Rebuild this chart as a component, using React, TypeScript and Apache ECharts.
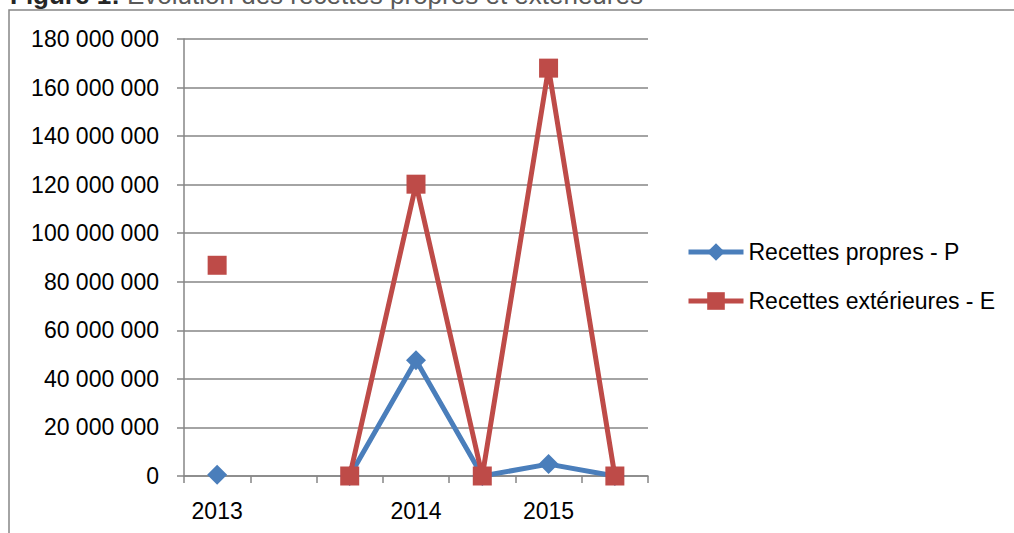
import React, { useEffect, useRef } from "react";
import * as echarts from "echarts";

const categories = ["2013", "", "", "2014", "", "2015", ""];
const recettesPropres = [500000, null, 0, 47700000, 0, 4900000, 0];
const recettesExterieures = [86800000, null, 0, 120200000, 0, 168000000, 0];
const seriesNames = ["Recettes propres - P", "Recettes extérieures - E"];
const titleBold = "Figure 1:";
const titleRest = " Évolution des recettes propres et extérieures";

const FONT = "Liberation Sans";

function fmt(v: number): string {
  return String(v).replace(/\B(?=(\d{3})+(?!\d))/g, " ");
}

export default function App() {
  const ref = useRef<HTMLDivElement>(null);
  useEffect(() => {
    document.body.style.margin = "0";
    const chart = echarts.init(ref.current!, null, { renderer: "svg" });
    chart.setOption({
      animation: false,
      backgroundColor: "#ffffff",
      grid: { left: 184, right: 366, top: 39, bottom: 57 },
      graphic: [
        {
          type: "rect",
          shape: { x: 9, y: 10, width: 1100, height: 600 },
          style: { fill: "none", stroke: "#868686", lineWidth: 1.5 },
          silent: true,
        },
        {
          type: "text",
          x: 10,
          y: 8,
          style: {
            text: "{b|" + titleBold + "}{r|" + titleRest + "}",
            verticalAlign: "bottom",
            align: "left",
            rich: {
              b: { fontFamily: FONT, fontSize: 26, fontWeight: "bold", fill: "#262626" },
              r: { fontFamily: FONT, fontSize: 26, fill: "#595959" },
            },
          },
        },
      ],
      xAxis: {
        type: "category",
        data: categories,
        boundaryGap: true,
        axisLine: { show: true, lineStyle: { color: "#868686", width: 1.5 } },
        axisTick: { show: true, interval: 0, length: 7, lineStyle: { color: "#868686", width: 1.5 } },
        axisLabel: { interval: 0, margin: 23, fontFamily: FONT, fontSize: 23, color: "#000000" },
        splitLine: { show: false },
      },
      yAxis: {
        type: "value",
        min: 0,
        max: 180000000,
        interval: 20000000,
        axisLine: { show: true, lineStyle: { color: "#868686", width: 1.5 } },
        axisTick: { show: true, length: 7, lineStyle: { color: "#868686", width: 1.5 } },
        axisLabel: { margin: 25, fontFamily: FONT, fontSize: 23, color: "#000000", formatter: (v: number) => fmt(v) },
        splitLine: { show: true, lineStyle: { color: "#868686", width: 1.5 } },
      },
      legend: {
        orient: "vertical",
        left: 681,
        top: 235,
        itemWidth: 55,
        itemHeight: 22,
        itemGap: 25,
        lineStyle: { width: 5 },
        textStyle: { fontFamily: FONT, fontSize: 23, color: "#000000", lineHeight: 24 },
        data: seriesNames,
      },
      series: [
        {
          name: seriesNames[0],
          type: "line",
          data: recettesPropres,
          connectNulls: false,
          symbol: "diamond",
          symbolSize: 20,
          itemStyle: { color: "#4A7EBB" },
          lineStyle: { color: "#4A7EBB", width: 5 },
          z: 2,
        },
        {
          name: seriesNames[1],
          type: "line",
          data: recettesExterieures,
          connectNulls: false,
          symbol: "rect",
          symbolSize: 19,
          itemStyle: { color: "#BE4B48" },
          lineStyle: { color: "#BE4B48", width: 5 },
          z: 3,
        },
      ],
    });
    return () => chart.dispose();
  }, []);
  return (
    <div
      ref={ref}
      style={{ position: "absolute", left: 0, top: 0, width: 1014, height: 533 }}
    />
  );
}
